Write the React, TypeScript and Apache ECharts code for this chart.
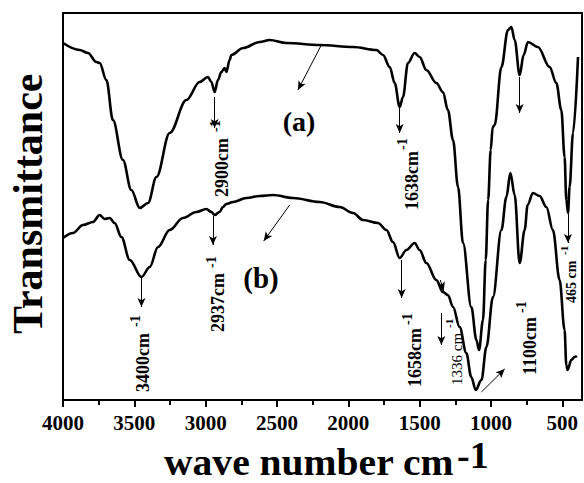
import React, { useEffect, useRef } from "react";
import * as echarts from "echarts";

// ---- Data (wavenumber in cm-1, transmittance in arbitrary units) ----
const wavenumberA = [4000, 3883, 3825, 3766, 3743, 3696, 3650, 3580, 3521, 3462, 3404, 3345, 3252, 3135, 3042, 2984, 2960, 2937, 2914, 2890, 2867, 2855, 2832, 2820, 2738, 2621, 2551, 2434, 2201, 1967, 1803, 1757, 1710, 1675, 1640, 1617, 1582, 1535, 1500, 1453, 1383, 1337, 1302, 1266, 1231, 1196, 1138, 1102, 1084, 1056, 1037, 1020, 1002, 988, 974, 927, 881, 857, 834, 799, 771, 741, 671, 589, 542, 507, 484, 472, 460, 449, 425, 390];
const transmittanceA = [357, 350, 347, 338, 337, 320, 280, 240, 210, 192, 197, 223, 267, 300, 318, 323, 318, 308, 320, 328, 332, 328, 340, 345, 352, 358, 360, 357, 355, 353, 350, 345, 333, 317, 293, 303, 337, 347, 343, 330, 317, 308, 290, 260, 213, 157, 93, 60, 50, 80, 140, 200, 250, 273, 275, 333, 370, 373, 360, 325, 345, 358, 353, 333, 317, 290, 243, 200, 187, 213, 267, 343];

const wavenumberB = [4000, 3930, 3860, 3790, 3743, 3708, 3673, 3638, 3591, 3532, 3450, 3392, 3334, 3252, 3159, 3065, 2995, 2960, 2937, 2902, 2879, 2855, 2808, 2715, 2621, 2528, 2388, 2201, 2061, 1967, 1897, 1792, 1733, 1687, 1640, 1593, 1535, 1500, 1453, 1383, 1337, 1302, 1266, 1220, 1173, 1138, 1107, 1067, 1032, 986, 927, 892, 864, 834, 799, 764, 743, 706, 659, 612, 566, 519, 484, 472, 463, 437, 414, 398];
const transmittanceB = [162, 167, 175, 178, 185, 181, 182, 177, 163, 140, 123, 133, 153, 170, 182, 188, 191, 188, 185, 188, 193, 196, 198, 202, 204, 205, 202, 198, 193, 187, 180, 177, 170, 158, 142, 150, 157, 150, 137, 120, 108, 105, 93, 73, 47, 23, 10, 20, 53, 103, 170, 203, 227, 205, 137, 170, 195, 207, 204, 193, 170, 120, 70, 35, 30, 40, 43, 44];

// axis ticks
const xLabelValues = [4000, 3500, 3000, 2500, 2000, 1500, 1000, 500];
const xMinorTicks = [3750, 3250, 2750, 2250, 1750, 1250, 750];

// arrows: [fromWn, fromT, toWn, toT]
const arrowsA = [
  [2937, 303, 2937, 272],
  [1640, 292, 1640, 267],
  [799, 323, 799, 287],
  [460, 186, 460, 157],
  [2189, 355, 2353, 310],
];
const arrowsB = [
  [3450, 122, 3450, 93],
  [2949, 184, 2949, 155],
  [1626, 140, 1626, 102],
  [1355, 120, 1332, 109],
  [1348, 87, 1348, 55],
  [1067, 8, 904, 31],
  [2411, 195, 2593, 159],
];

// peak labels (rotated, reading upward): text, x, bottom y, superscript x, bottom y, size, weight
const peakLabels = [
  { text: "2900cm", x: 221.5, y: 197, sx: 215, sy: 132, size: 18, weight: "bold" },
  { text: "1638cm", x: 411.5, y: 210, sx: 402, sy: 150, size: 18, weight: "bold" },
  { text: "3400cm", x: 142.5, y: 392, sx: 135, sy: 327, size: 18, weight: "bold" },
  { text: "2937cm", x: 217.5, y: 332, sx: 211.5, sy: 268, size: 18, weight: "bold" },
  { text: "1658cm", x: 415, y: 387, sx: 407.5, sy: 325, size: 18, weight: "bold" },
  { text: "1336 cm", x: 456.5, y: 385, sx: 448.5, sy: 328, size: 15, weight: "normal" },
  { text: "1100cm", x: 529.5, y: 375, sx: 521.5, sy: 313, size: 18, weight: "bold" },
  { text: "465 cm", x: 571.5, y: 303, sx: 563.5, sy: 255, size: 14, weight: "bold" },
];

const FONT = "Liberation Serif";

function toPairs(xs: number[], ys: number[]) {
  return xs.map((x, i) => [x, ys[i]]);
}

function arrowData(arr: number[][]) {
  return arr.map((a) => [{ coord: [a[0], a[1]] }, { coord: [a[2], a[3]] }]);
}

function textEl(
  text: string,
  x: number,
  y: number,
  size: number,
  weight: string,
  opts: { rotate?: boolean; align?: string; scaleX?: number } = {}
) {
  return {
    type: "text",
    x,
    y,
    rotation: opts.rotate ? Math.PI / 2 : 0,
    scaleX: opts.scaleX ?? 1,
    style: {
      text,
      fill: "#000",
      fontSize: size,
      fontWeight: weight,
      fontFamily: FONT,
      align: opts.align ?? "center",
      verticalAlign: "middle",
      textAlign: opts.align ?? "center",
      textVerticalAlign: "middle",
    },
  };
}

export default function App() {
  const ref = useRef<HTMLDivElement>(null);
  useEffect(() => {
    if (!ref.current) return;
    const chart = echarts.init(ref.current, null, { renderer: "svg" });

    const markLine = (arr: number[][]) => ({
      silent: true,
      symbol: ["none", "arrow"],
      symbolSize: [6, 9],
      label: { show: false },
      lineStyle: { color: "#000", width: 1, type: "solid" },
      data: arrowData(arr),
    });

    const graphics: any[] = [];
    peakLabels.forEach((p) => {
      graphics.push(textEl(p.text, p.x, p.y, p.size, p.weight, { rotate: true, align: "left" }));
      graphics.push(textEl("-1", p.sx, p.sy, Math.round(p.size * 0.75), "bold", { rotate: true, align: "left" }));
    });
    graphics.push(textEl("(a)", 299, 121, 28, "bold"));
    graphics.push(textEl("(b)", 261, 278, 29, "bold"));
    graphics.push(textEl("Transmittance", 27.5, 334, 42, "bold", { rotate: true, align: "left" }));
    graphics.push(textEl("wave number cm", 164, 462, 37, "bold", { align: "left", scaleX: 1.07 }));
    graphics.push(textEl("-1", 457, 455, 38, "bold", { align: "left" }));

    chart.setOption({
      animation: false,
      backgroundColor: "#fff",
      grid: {
        left: 63,
        right: 2,
        top: 13,
        bottom: 83,
        show: true,
        borderColor: "#000",
        borderWidth: 2,
        backgroundColor: "transparent",
      },
      xAxis: [
        {
          type: "value",
          inverse: true,
          min: 362,
          max: 4000,
          position: "bottom",
          axisLine: { show: true, lineStyle: { color: "#000", width: 2 } },
          axisTick: { show: true, customValues: xLabelValues, length: 7, lineStyle: { color: "#000", width: 2 } },
          axisLabel: {
            show: true,
            customValues: xLabelValues,
            formatter: (v: number) => String(v),
            color: "#000",
            fontSize: 21,
            fontWeight: "bold",
            fontFamily: FONT,
            margin: 12,
          },
          splitLine: { show: false },
        },
        {
          type: "value",
          inverse: true,
          min: 362,
          max: 4000,
          position: "bottom",
          offset: 0,
          axisLine: { show: false },
          axisTick: { show: true, customValues: xMinorTicks, length: 5, lineStyle: { color: "#000", width: 2 } },
          axisLabel: { show: false },
          splitLine: { show: false },
        },
      ],
      yAxis: {
        type: "value",
        min: 0,
        max: 387,
        axisLine: { show: true, lineStyle: { color: "#000", width: 2 } },
        axisTick: { show: false },
        axisLabel: { show: false },
        splitLine: { show: false },
      },
      series: [
        {
          name: "(a)",
          type: "line",
          data: toPairs(wavenumberA, transmittanceA),
          showSymbol: false,
          symbol: "none",
          smooth: 0.35,
          smoothMonotone: "x",
          lineStyle: { color: "#000", width: 2.6 },
          markLine: markLine(arrowsA),
        },
        {
          name: "(b)",
          type: "line",
          data: toPairs(wavenumberB, transmittanceB),
          showSymbol: false,
          symbol: "none",
          smooth: 0.35,
          smoothMonotone: "x",
          lineStyle: { color: "#000", width: 2.6 },
          markLine: markLine(arrowsB),
        },
      ],
      graphic: graphics,
    });
    return () => chart.dispose();
  }, []);
  return (
    <div
      ref={ref}
      style={{ position: "fixed", left: 0, top: 0, width: 584, height: 483, background: "#fff" }}
    />
  );
}
